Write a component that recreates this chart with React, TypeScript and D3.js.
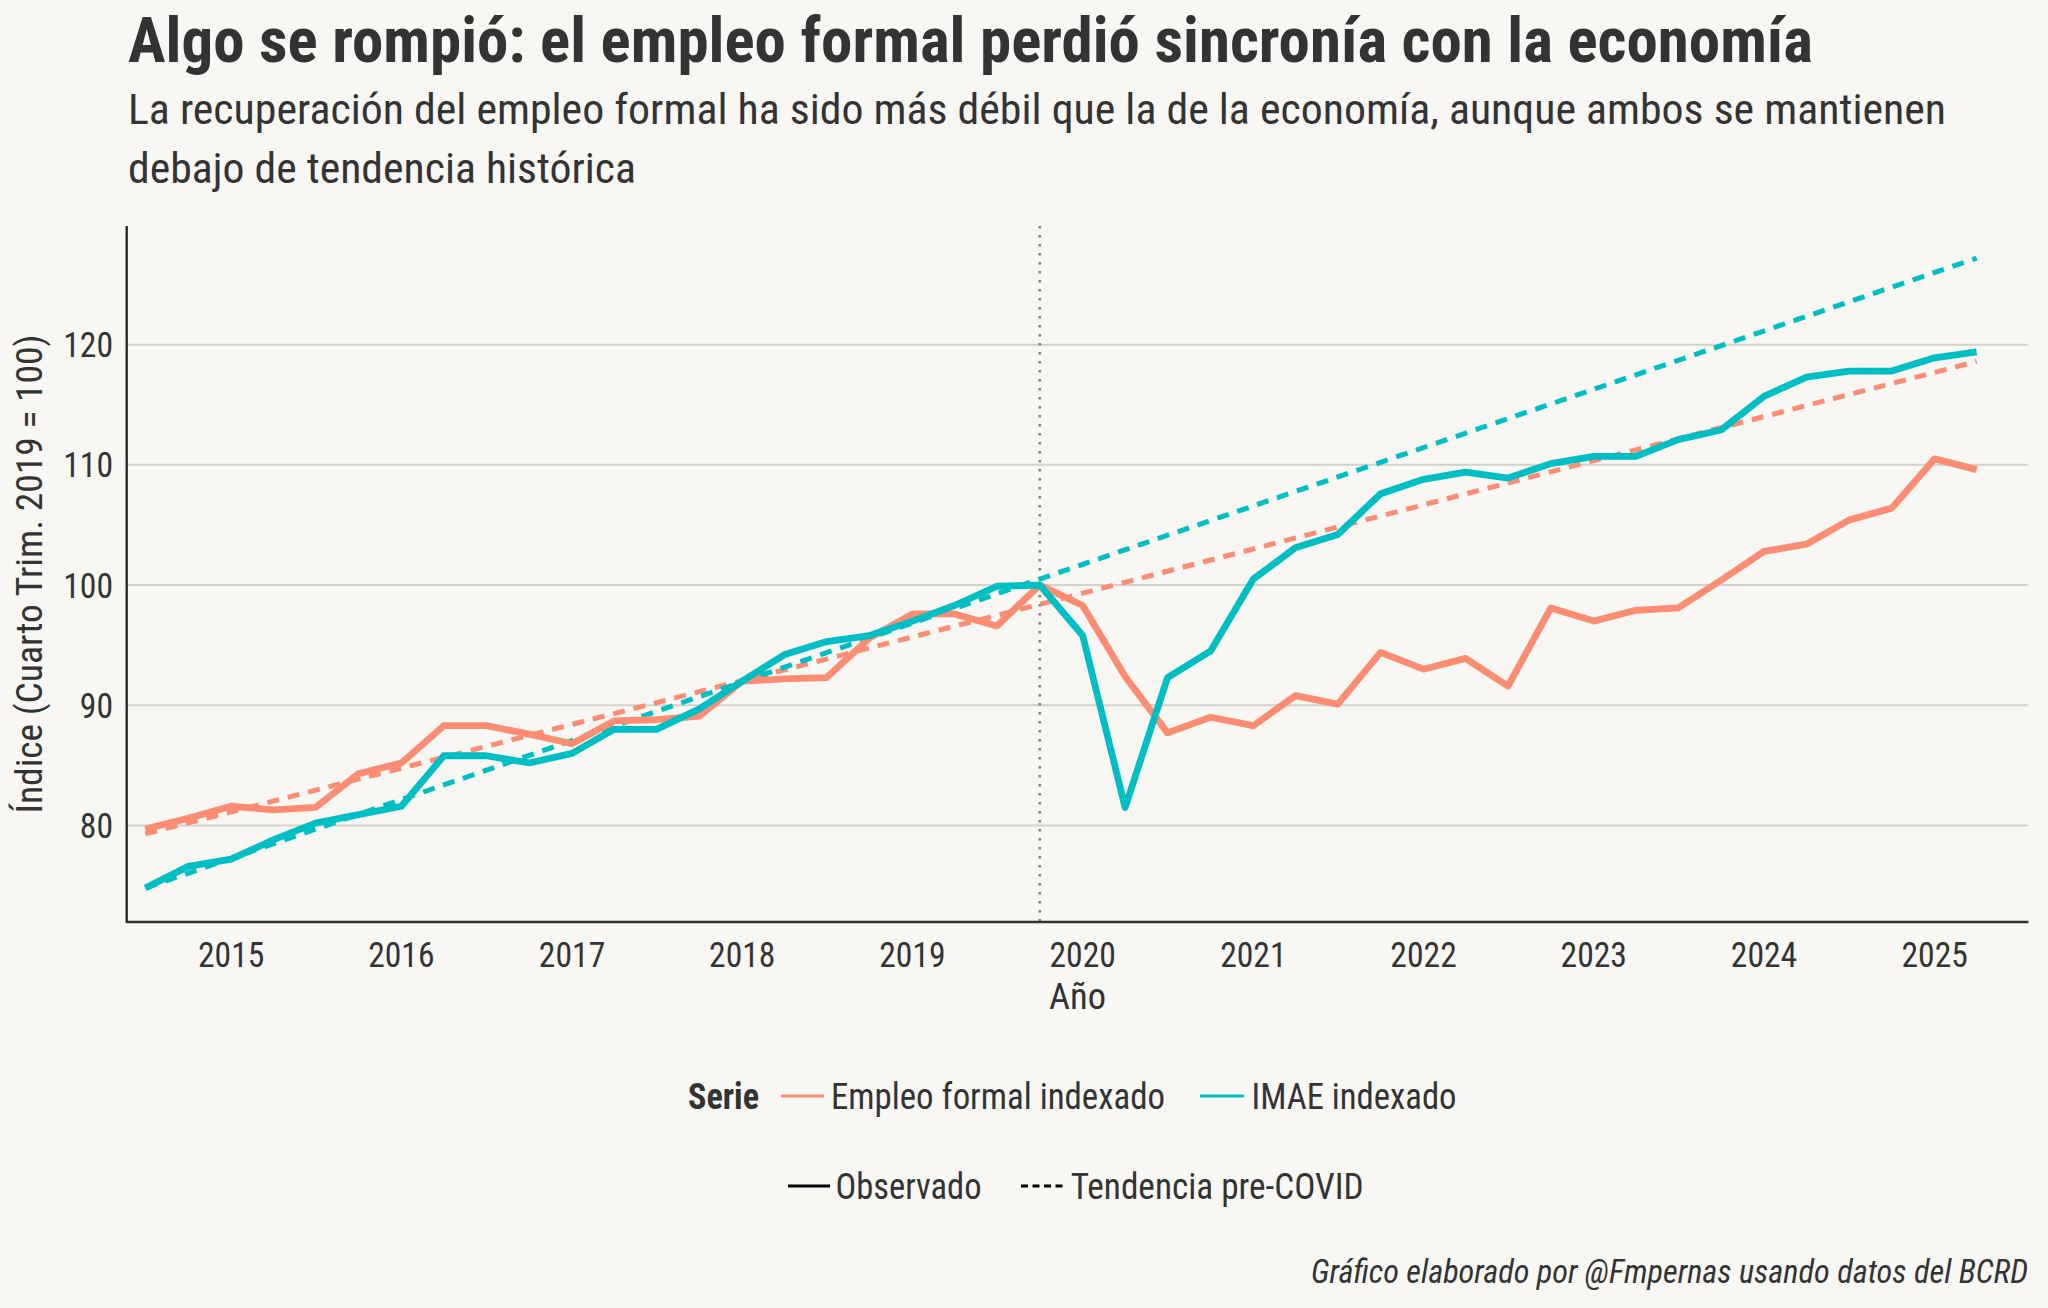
import React from "react";
import * as d3 from "d3";

// ---------- DATA ----------
const quarters = [
  "2014-07-01", "2014-10-01",
  "2015-01-01", "2015-04-01", "2015-07-01", "2015-10-01",
  "2016-01-01", "2016-04-01", "2016-07-01", "2016-10-01",
  "2017-01-01", "2017-04-01", "2017-07-01", "2017-10-01",
  "2018-01-01", "2018-04-01", "2018-07-01", "2018-10-01",
  "2019-01-01", "2019-04-01", "2019-07-01", "2019-10-01",
  "2020-01-01", "2020-04-01", "2020-07-01", "2020-10-01",
  "2021-01-01", "2021-04-01", "2021-07-01", "2021-10-01",
  "2022-01-01", "2022-04-01", "2022-07-01", "2022-10-01",
  "2023-01-01", "2023-04-01", "2023-07-01", "2023-10-01",
  "2024-01-01", "2024-04-01", "2024-07-01", "2024-10-01",
  "2025-01-01", "2025-04-01",
];

const empleoObservado = [
  79.7, 80.6, 81.6, 81.3, 81.5, 84.3, 85.2, 88.3, 88.3, 87.6, 86.8, 88.7,
  88.8, 89.1, 92.0, 92.2, 92.3, 95.6, 97.6, 97.6, 96.6, 100.0, 98.3, 92.4,
  87.7, 89.0, 88.3, 90.8, 90.1, 94.4, 93.0, 93.9, 91.6, 98.1, 97.0, 97.9,
  98.1, 100.4, 102.8, 103.4, 105.4, 106.4, 110.5, 109.6,
];

const imaeObservado = [
  74.8, 76.6, 77.2, 78.8, 80.2, 80.9, 81.6, 85.8, 85.8, 85.2, 86.0, 88.0,
  88.0, 89.7, 92.0, 94.2, 95.3, 95.8, 97.0, 98.3, 99.9, 100.0, 95.8, 81.5,
  92.3, 94.5, 100.5, 103.1, 104.2, 107.6, 108.8, 109.4, 108.9, 110.1, 110.7, 110.7,
  112.1, 112.9, 115.7, 117.3, 117.8, 117.8, 118.9, 119.4,
];

const tendenciaFechas = ["2014-07-01", "2019-10-01", "2025-04-01"];
const empleoTendencia = [79.3, 98.4, 118.6];
const imaeTendencia = [74.8, 100.5, 127.2];

const yTicks = [80, 90, 100, 110, 120];
const xTickYears = [2015, 2016, 2017, 2018, 2019, 2020, 2021, 2022, 2023, 2024, 2025];
const corteCovid = "2019-10-01";

const seriesNames = ["Empleo formal indexado", "IMAE indexado"];
const seriesColors = ["#FC8D73", "#00BFC4"];

// ---------- LAYOUT ----------
const W = 2048;
const H = 1308;
const P = { left: 126.7, right: 2028.4, top: 226, bottom: 922 };
const FONT = "'Roboto Condensed', 'Roboto', sans-serif";
const TEXT = "#333333";
const BG = "#F8F7F3";
const DIGIT_W = 16.6;

const parse = (s: string) => {
  const [y, m, d] = s.split("-").map(Number);
  return new Date(Date.UTC(y, m - 1, d));
};

export default function App() {
  const x = d3
    .scaleUtc()
    .domain([new Date(Date.UTC(2014, 4, 22)), new Date(Date.UTC(2025, 6, 21))])
    .range([P.left, P.right]);
  const y = d3.scaleLinear().domain([71.97, 129.87]).range([P.bottom, P.top]);

  const line = d3
    .line<[Date, number]>()
    .x((d) => x(d[0]))
    .y((d) => y(d[1]));

  const obsDates = quarters.map(parse);
  const trendDates = tendenciaFechas.map(parse);
  const empObs = line(obsDates.map((d, i) => [d, empleoObservado[i]] as [Date, number]));
  const imaeObs = line(obsDates.map((d, i) => [d, imaeObservado[i]] as [Date, number]));
  const empTr = line(trendDates.map((d, i) => [d, empleoTendencia[i]] as [Date, number]));
  const imaeTr = line(trendDates.map((d, i) => [d, imaeTendencia[i]] as [Date, number]));
  const xc = x(parse(corteCovid));

  const dash = "12 9";

  return (
    <svg
      width={W}
      height={H}
      viewBox={`0 0 ${W} ${H}`}
      style={{ position: "absolute", left: 0, top: 0, display: "block" }}
      fontFamily={FONT}
    >
      <rect x={0} y={0} width={W} height={H} fill={BG} />

      {/* Title & subtitle */}
      <text x={128} y={62} fontSize={63} fontWeight={700} fill={TEXT} textLength={1685} lengthAdjust="spacingAndGlyphs">
        Algo se rompió: el empleo formal perdió sincronía con la economía
      </text>
      <text x={128} y={124} fontSize={43} fill={TEXT} textLength={1818} lengthAdjust="spacingAndGlyphs">
        La recuperación del empleo formal ha sido más débil que la de la economía, aunque ambos se mantienen
      </text>
      <text x={128} y={183} fontSize={43} fill={TEXT} textLength={508} lengthAdjust="spacingAndGlyphs">
        debajo de tendencia histórica
      </text>

      {/* Gridlines */}
      {yTicks.map((t) => (
        <line key={t} x1={P.left} x2={P.right} y1={y(t)} y2={y(t)} stroke="#D4D2CD" strokeWidth={2} />
      ))}

      {/* Covid cut */}
      <line x1={xc} x2={xc} y1={P.top} y2={P.bottom} stroke="#808080" strokeWidth={2.6} strokeDasharray="2.6 6.4" />

      {/* Trend lines */}
      <path d={empTr || ""} fill="none" stroke={seriesColors[0]} strokeWidth={5} strokeDasharray={dash} />
      <path d={imaeTr || ""} fill="none" stroke={seriesColors[1]} strokeWidth={5} strokeDasharray={dash} />
      {/* Observed lines */}
      <path d={empObs || ""} fill="none" stroke={seriesColors[0]} strokeWidth={6.8} strokeLinejoin="round" />
      <path d={imaeObs || ""} fill="none" stroke={seriesColors[1]} strokeWidth={6.8} strokeLinejoin="round" />

      {/* Axes */}
      <line x1={P.left} x2={P.left} y1={P.top} y2={P.bottom + 1} stroke="#1a1a1a" strokeWidth={2.2} />
      <line x1={P.left} x2={P.right} y1={P.bottom} y2={P.bottom} stroke="#333333" strokeWidth={2.4} />

      {/* Y tick labels */}
      {yTicks.map((t) => (
        <text
          key={t}
          x={113}
          y={y(t) + 12.5}
          fontSize={35}
          fill={TEXT}
          textAnchor="end"
          textLength={String(t).length * DIGIT_W}
          lengthAdjust="spacingAndGlyphs"
        >
          {t}
        </text>
      ))}
      {/* X tick labels */}
      {xTickYears.map((yr) => (
        <text
          key={yr}
          x={x(new Date(Date.UTC(yr, 0, 1)))}
          y={967}
          fontSize={35}
          fill={TEXT}
          textAnchor="middle"
          textLength={String(yr).length * DIGIT_W}
          lengthAdjust="spacingAndGlyphs"
        >
          {yr}
        </text>
      ))}

      {/* Axis titles */}
      <text x={(P.left + P.right) / 2} y={1009} fontSize={36} fill={TEXT} textAnchor="middle" textLength={57} lengthAdjust="spacingAndGlyphs">
        Año
      </text>
      <text
        transform={`translate(42, ${(P.top + P.bottom) / 2}) rotate(-90)`}
        fontSize={36}
        fill={TEXT}
        textAnchor="middle"
        textLength={479}
        lengthAdjust="spacingAndGlyphs"
      >
        Índice (Cuarto Trim. 2019 = 100)
      </text>

      {/* Legend row 1 */}
      <text x={688} y={1109} fontSize={37} fontWeight={700} fill={TEXT} textLength={71} lengthAdjust="spacingAndGlyphs">
        Serie
      </text>
      <line x1={781} x2={824} y1={1096} y2={1096} stroke={seriesColors[0]} strokeWidth={3.2} />
      <text x={831} y={1109} fontSize={37} fill={TEXT} textLength={334} lengthAdjust="spacingAndGlyphs">
        {seriesNames[0]}
      </text>
      <line x1={1200} x2={1244} y1={1096} y2={1096} stroke={seriesColors[1]} strokeWidth={3.2} />
      <text x={1251.5} y={1109} fontSize={37} fill={TEXT} textLength={205} lengthAdjust="spacingAndGlyphs">
        {seriesNames[1]}
      </text>

      {/* Legend row 2 */}
      <line x1={788} x2={830} y1={1186} y2={1186} stroke="#000" strokeWidth={3.2} />
      <text x={835.5} y={1199} fontSize={37} fill={TEXT} textLength={146} lengthAdjust="spacingAndGlyphs">
        Observado
      </text>
      <line x1={1021} x2={1064} y1={1186} y2={1186} stroke="#000" strokeWidth={3.2} strokeDasharray="7 4.5" />
      <text x={1070.7} y={1199} fontSize={37} fill={TEXT} textLength={293} lengthAdjust="spacingAndGlyphs">
        Tendencia pre-COVID
      </text>

      {/* Caption */}
      <text x={2028} y={1283} fontSize={33} fontStyle="italic" fill={TEXT} textAnchor="end" textLength={717} lengthAdjust="spacingAndGlyphs">
        Gráfico elaborado por @Fmpernas usando datos del BCRD
      </text>
    </svg>
  );
}
